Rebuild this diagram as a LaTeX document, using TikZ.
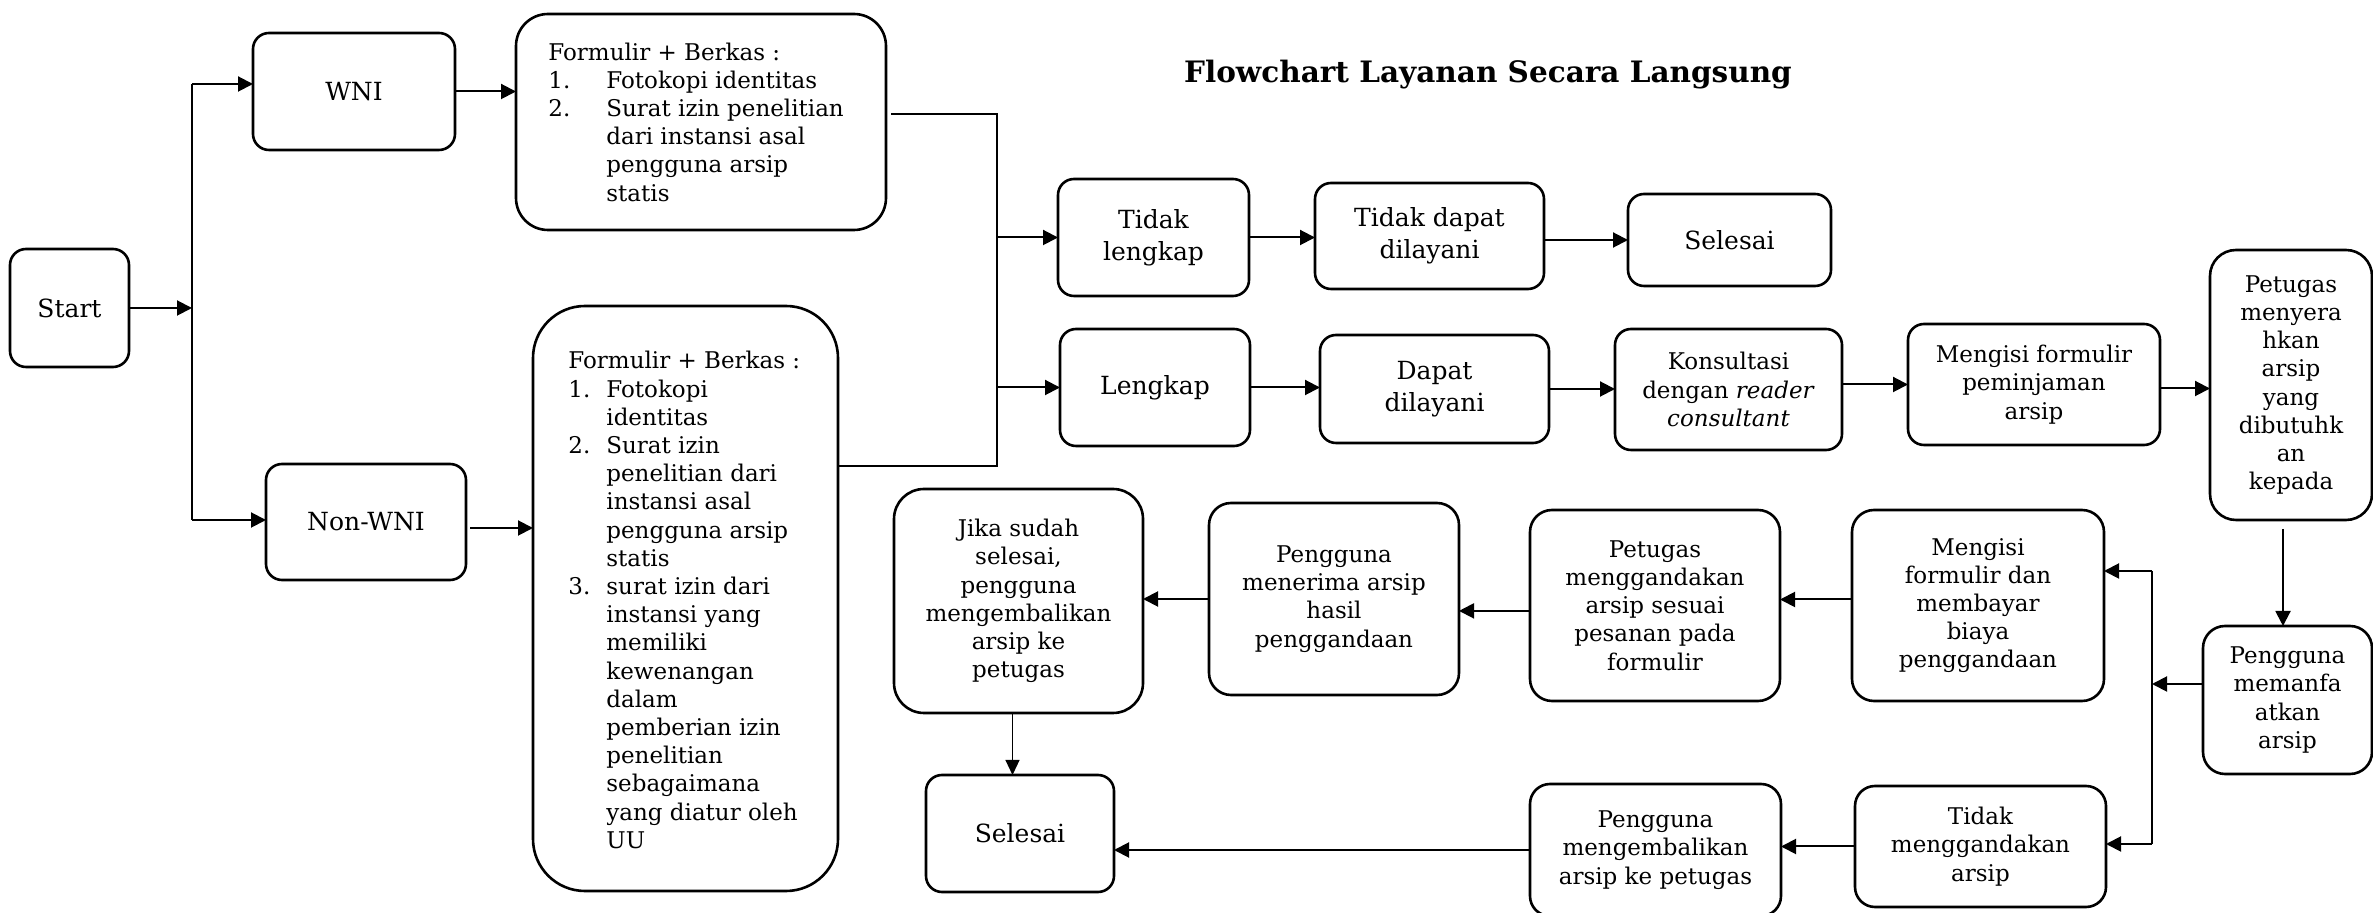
\documentclass[tikz,border=0pt]{standalone}
\usepackage{fontspec}
\setmainfont{DejaVu Serif}
\usetikzlibrary{arrows.meta}
\newcommand\myNfont{\fontsize{11.5}{14.1}\selectfont}
\newcommand\myBfont{\fontsize{12.5}{15.8}\selectfont}
\tikzset{
  box/.style={draw, line width=1.3pt, rounded corners=8pt, inner sep=0pt, outer sep=0pt, align=center, font=\myNfont},
  bigbox/.style={box, font=\myBfont},
  boxtext/.style={anchor=west, align=left, inner sep=0pt, font=\myNfont},
  arr/.style={line width=1pt, -{Triangle[length=7.5pt,width=7.5pt]}},
  ln/.style={line width=1pt},
}
\begin{document}
\begin{tikzpicture}[x=0.5pt,y=-0.5pt]
\useasboundingbox (0,0) rectangle (2373,913);
\clip (0,0) rectangle (2373,913);

% title
\node[font=\fontsize{14.75}{17}\selectfont\bfseries] (title) at (1488,75) {Flowchart Layanan Secara Langsung};

% left part
\node[bigbox, minimum width=59.5pt, minimum height=59pt] (start) at (69.5,308) {Start};
\node[bigbox, minimum width=101pt, minimum height=58.5pt] (wni) at (354,91.5) {WNI};
\node[bigbox, minimum width=100pt, minimum height=58pt] (nonwni) at (366,522) {Non-WNI};

\node[box, rounded corners=16pt, minimum width=185pt, minimum height=108pt] (f1) at (701,122) {};
\node[boxtext] (f1t) at (548,122) {%
Formulir + Berkas :\\
\makebox[29pt][l]{1.}Fotokopi identitas\\
\makebox[29pt][l]{2.}Surat izin penelitian\\
\hspace*{29pt}dari instansi asal\\
\hspace*{29pt}pengguna arsip\\
\hspace*{29pt}statis};

\node[box, rounded corners=26pt, minimum width=152.5pt, minimum height=292.5pt] (f2) at (685.5,598.5) {};
\node[boxtext] (f2t) at (568,600) {%
Formulir + Berkas :\\
\makebox[19pt][l]{1.}Fotokopi\\
\hspace*{19pt}identitas\\
\makebox[19pt][l]{2.}Surat izin\\
\hspace*{19pt}penelitian dari\\
\hspace*{19pt}instansi asal\\
\hspace*{19pt}pengguna arsip\\
\hspace*{19pt}statis\\
\makebox[19pt][l]{3.}surat izin dari\\
\hspace*{19pt}instansi yang\\
\hspace*{19pt}memiliki\\
\hspace*{19pt}kewenangan\\
\hspace*{19pt}dalam\\
\hspace*{19pt}pemberian izin\\
\hspace*{19pt}penelitian\\
\hspace*{19pt}sebagaimana\\
\hspace*{19pt}yang diatur oleh\\
\hspace*{19pt}UU};

% upper rows
\node[bigbox, minimum width=95.5pt, minimum height=58.5pt] (tl) at (1153.5,237.5) {Tidak\\lengkap};
\node[bigbox, minimum width=114.5pt, minimum height=53pt] (tdd) at (1429.5,236) {Tidak dapat\\dilayani};
\node[bigbox, minimum width=101.5pt, minimum height=46pt] (s1) at (1729.5,240) {Selesai};

\node[bigbox, minimum width=95pt, minimum height=58.5pt] (lk) at (1155,387.5) {Lengkap};
\node[bigbox, minimum width=114.5pt, minimum height=54pt] (dd) at (1434.5,389) {Dapat\\dilayani};
\node[box, minimum width=113.5pt, minimum height=60.5pt] (kons) at (1728.5,389.5) {Konsultasi\\dengan \textit{reader}\\\textit{consultant}};
\node[box, minimum width=126pt, minimum height=60.5pt] (mfp) at (2034,384.5) {Mengisi formulir\\peminjaman\\arsip};
\node[box, rounded corners=13pt, minimum width=81pt, minimum height=135pt] (pmy) at (2291,385) {Petugas\\menyera\\hkan\\arsip\\yang\\dibutuhk\\an\\kepada};
\node[box, rounded corners=11pt, minimum width=84.5pt, minimum height=74pt] (pmf) at (2287.5,700) {Pengguna\\memanfa\\atkan\\arsip};

% lower rows
\node[box, rounded corners=11pt, minimum width=126pt, minimum height=95.5pt] (mfb) at (1978,605.5) {Mengisi\\formulir dan\\membayar\\biaya\\penggandaan};
\node[box, rounded corners=11pt, minimum width=125pt, minimum height=95.5pt] (pmg) at (1655,605.5) {Petugas\\menggandakan\\arsip sesuai\\pesanan pada\\formulir};
\node[box, rounded corners=11pt, minimum width=125pt, minimum height=96pt] (pmn) at (1334,599) {Pengguna\\menerima arsip\\hasil\\penggandaan};
\node[box, rounded corners=15pt, minimum width=124.5pt, minimum height=112pt] (jika) at (1018.5,601) {Jika sudah\\selesai,\\pengguna\\mengembalikan\\arsip ke\\petugas};
\node[bigbox, minimum width=94pt, minimum height=58.5pt] (s2) at (1020,833.5) {Selesai};
\node[box, rounded corners=10pt, minimum width=125.5pt, minimum height=60.5pt] (tm) at (1980.5,846.5) {Tidak\\menggandakan\\arsip};
\node[box, rounded corners=10pt, minimum width=125.5pt, minimum height=66pt] (pmk) at (1655.5,850) {Pengguna\\mengembalikan\\arsip ke petugas};

% junction coordinates
\coordinate (T1) at (192,84);
\coordinate (T2) at (192,520);
\coordinate (J1) at (997,114);
\coordinate (J2) at (997,466);
\coordinate (V1) at (2152,571);
\coordinate (V2) at (2152,844);
\coordinate (Vm) at (2152,684);

% connectors
\draw[arr] (start.east) -- (start.east -| T1);
\draw[ln] (T1) -- (T2);
\draw[arr] (T1) -- (T1 -| wni.west);
\draw[arr] (T2) -- (T2 -| nonwni.west);
\draw[arr] (wni.east) -- (wni.east -| f1.west);
\draw[arr] ([yshift=-3pt,xshift=2pt]nonwni.east) -- ([yshift=-3pt]nonwni.east -| f2.west);
\draw[ln] ([xshift=2.5pt]f1.east |- J1) -- (J1) -- (J2) -- (f2.east |- J2);
\draw[arr] (J1 |- tl.west) -- (tl.west);
\draw[arr] (J1 |- lk.west) -- (lk.west);
\draw[arr] (tl.east) -- (tl.east -| tdd.west);
\draw[arr] (s1.west -| tdd.east) -- (s1.west);
\draw[arr] (lk.east) -- (lk.east -| dd.west);
\draw[arr] (dd.east) -- (dd.east -| kons.west);
\draw[arr] (mfp.west -| kons.east) -- (mfp.west);
\draw[arr] ([yshift=-2pt]mfp.east) -- ([yshift=-2pt]mfp.east -| pmy.west);
\draw[arr, shorten <=4.5pt] ([xshift=-4pt]pmy.south) -- ([xshift=-4pt]pmy.south |- pmf.north);
\draw[arr] (pmf.west |- Vm) -- (Vm);
\draw[ln] (V1) -- (V2);
\draw[arr] (V1) -- (V1 -| mfb.east);
\draw[arr] (V2) -- (V2 -| tm.east);
\draw[arr] ([yshift=3pt]mfb.west) -- ([yshift=3pt]mfb.west -| pmg.east);
\draw[arr] ([yshift=-2.7pt]pmg.west) -- ([yshift=-2.7pt]pmg.west -| pmn.east);
\draw[arr] (pmn.west) -- (pmn.west -| jika.east);
\draw[line width=0.6pt, -{Triangle[length=7.5pt,width=7pt]}] ([xshift=-3pt]jika.south) -- ([xshift=-3pt]jika.south |- s2.north);
\draw[arr] (tm.west) -- (tm.west -| pmk.east);
\draw[arr] (pmk.west) -- (pmk.west -| s2.east);
\end{tikzpicture}
\end{document}
